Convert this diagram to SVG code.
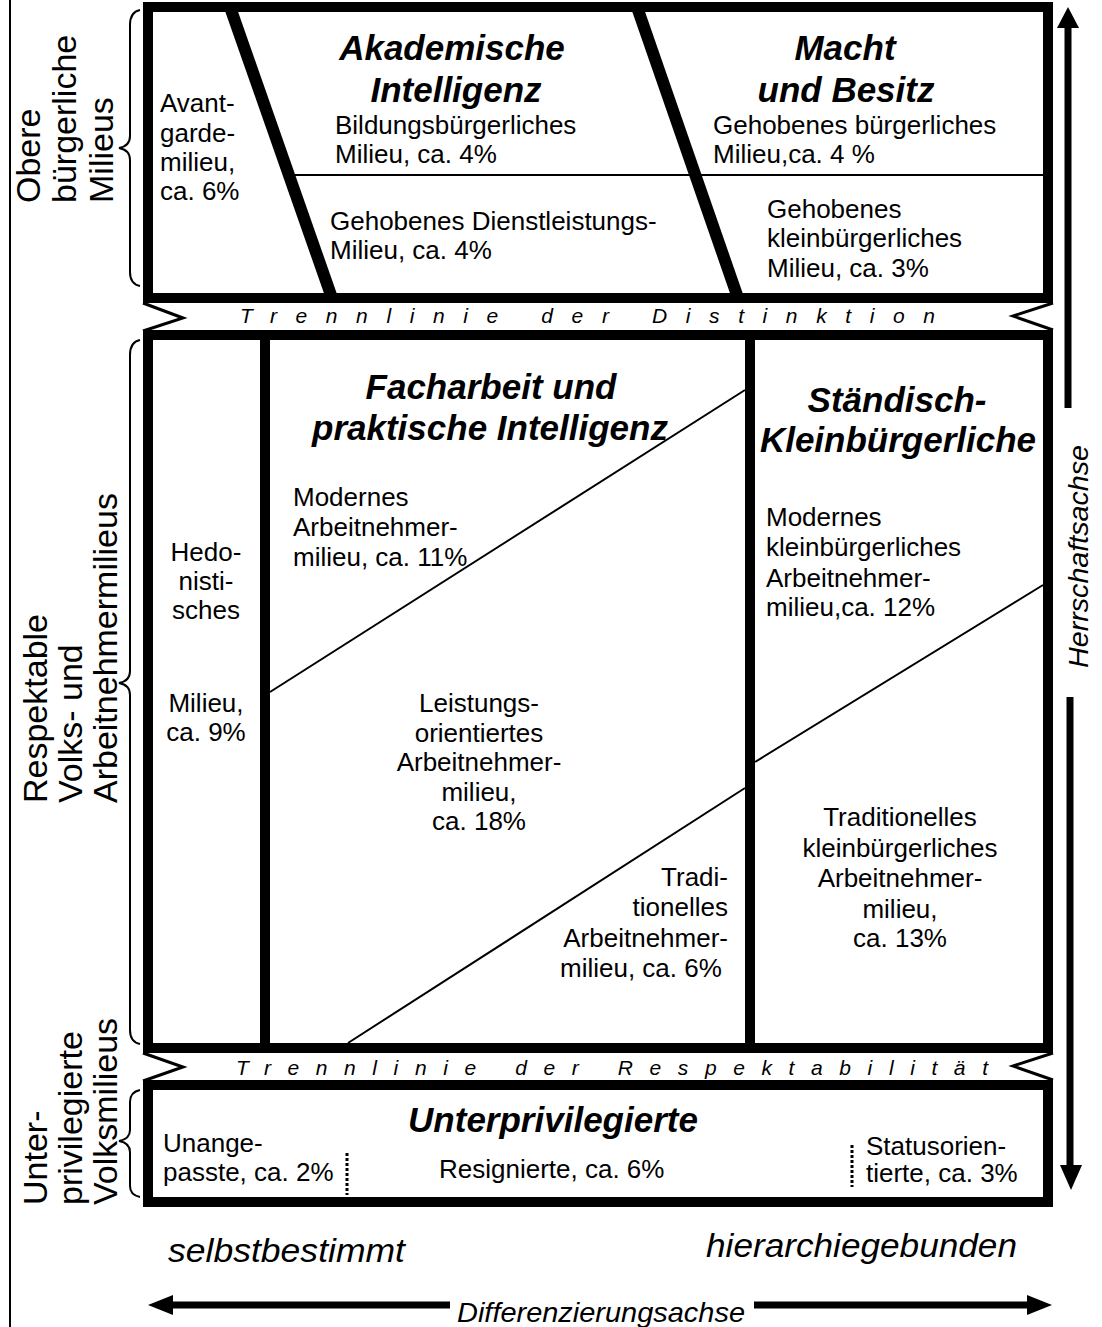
<svg xmlns="http://www.w3.org/2000/svg" width="1102" height="1327" viewBox="0 0 1102 1327">
<style>
.bx{fill:none;stroke:#000;stroke-width:10}
.thin{fill:none;stroke:#000;stroke-width:2}
.sl{fill:none;stroke:#000;stroke-width:12}
.notch{fill:none;stroke:#000;stroke-width:3}
.br{fill:none;stroke:#000;stroke-width:2}
.dot{fill:none;stroke:#000;stroke-width:3;stroke-dasharray:3 2}
.ax{fill:none;stroke:#000;stroke-width:7}
text{font-family:"Liberation Sans",Arial,sans-serif;fill:#000}
.t{font-size:26px}
.c{text-anchor:middle}
.e{text-anchor:end}
.h{font-size:35px;font-weight:bold;font-style:italic;text-anchor:middle}
.tr{font-size:21px;font-style:italic}
.lab{font-size:34px}
.it{font-style:italic}
</style>
<rect width="1102" height="1327" fill="#fff"/>
<line x1="10" y1="0" x2="10" y2="1327" class="thin"/>

<g id="frame-top">
<rect x="148" y="7" width="900" height="291" class="bx"/>
<line x1="230" y1="7" x2="332" y2="298" class="sl"/>
<line x1="637" y1="7" x2="738" y2="298" class="sl"/>
<line x1="288" y1="175" x2="1043" y2="175" class="thin"/>
</g>
<g id="frame-mid">
<rect x="148" y="335" width="900" height="713" class="bx"/>
<line x1="265" y1="335" x2="265" y2="1048" class="bx"/>
<line x1="750" y1="335" x2="750" y2="1048" class="bx"/>
<line x1="270" y1="692" x2="745" y2="390" class="thin"/>
<line x1="348" y1="1043" x2="745" y2="788" class="thin"/>
<line x1="755" y1="762" x2="1043" y2="585" class="thin"/>
</g>
<g id="frame-low">
<rect x="148" y="1085" width="900" height="117" class="bx"/>
<line x1="347" y1="1153" x2="347" y2="1195" class="dot"/>
<line x1="852" y1="1145" x2="852" y2="1187" class="dot"/>
</g>

<g id="trennlinie-distinktion">
<polyline points="143,303 183,318 143,331" class="notch"/>
<polyline points="1053,303 1013,316 1053,330" class="notch"/>
<text x="240" y="323" class="tr" textLength="695" lengthAdjust="spacing">Trennlinie der Distinktion</text>
</g>
<g id="trennlinie-respektabilitaet">
<polyline points="143,1053 183,1067 143,1081" class="notch"/>
<polyline points="1053,1053 1013,1066 1053,1080" class="notch"/>
<text x="236" y="1075" class="tr" textLength="752" lengthAdjust="spacing">Trennlinie der Respektabilität</text>
</g>

<g id="avantgarde">
<text class="t" x="160" y="112">Avant-</text>
<text class="t" x="160" y="142">garde-</text>
<text class="t" x="160" y="171">milieu,</text>
<text class="t" x="160" y="200">ca. 6%</text>
</g>
<g id="akademische-intelligenz">
<text class="h" x="452" y="60">Akademische</text>
<text class="h" x="456" y="102">Intelligenz</text>
</g>
<g id="bildungsbuergerlich">
<text class="t" x="335" y="134">Bildungsbürgerliches</text>
<text class="t" x="335" y="163">Milieu, ca. 4%</text>
</g>
<g id="dienstleistung">
<text class="t" x="330" y="230">Gehobenes Dienstleistungs-</text>
<text class="t" x="330" y="259">Milieu, ca. 4%</text>
</g>
<g id="macht-besitz">
<text class="h" x="845" y="60">Macht</text>
<text class="h" x="846" y="102">und Besitz</text>
</g>
<g id="gehoben-buergerlich">
<text class="t" x="713" y="134">Gehobenes bürgerliches</text>
<text class="t" x="713" y="163">Milieu,ca. 4 %</text>
</g>
<g id="gehoben-kleinbuergerlich">
<text class="t" x="767" y="218">Gehobenes</text>
<text class="t" x="767" y="247">kleinbürgerliches</text>
<text class="t" x="767" y="277">Milieu, ca. 3%</text>
</g>

<g id="hedonistisch">
<text class="t c" x="206" y="561">Hedo-</text>
<text class="t c" x="206" y="590">nisti-</text>
<text class="t c" x="206" y="619">sches</text>
<text class="t c" x="206" y="712">Milieu,</text>
<text class="t c" x="206" y="741">ca. 9%</text>
</g>
<g id="facharbeit">
<text class="h" x="491" y="399">Facharbeit und</text>
<text class="h" x="490" y="440">praktische Intelligenz</text>
</g>
<g id="modernes-arbeitnehmer">
<text class="t" x="293" y="506">Modernes</text>
<text class="t" x="293" y="536">Arbeitnehmer-</text>
<text class="t" x="293" y="566">milieu, ca. 11%</text>
</g>
<g id="leistungsorientiert">
<text class="t c" x="479" y="712">Leistungs-</text>
<text class="t c" x="479" y="742">orientiertes</text>
<text class="t c" x="479" y="771">Arbeitnehmer-</text>
<text class="t c" x="479" y="801">milieu,</text>
<text class="t c" x="479" y="830">ca. 18%</text>
</g>
<g id="traditionelles-arbeitnehmer">
<text class="t e" x="728" y="886">Tradi-</text>
<text class="t e" x="728" y="916">tionelles</text>
<text class="t e" x="728" y="947">Arbeitnehmer-</text>
<text class="t" x="560" y="977">milieu, ca. 6%</text>
</g>
<g id="staendisch">
<text class="h" x="897" y="412">Ständisch-</text>
<text class="h" x="898" y="452">Kleinbürgerliche</text>
</g>
<g id="modernes-kleinbuergerlich">
<text class="t" x="766" y="526">Modernes</text>
<text class="t" x="766" y="556">kleinbürgerliches</text>
<text class="t" x="766" y="587">Arbeitnehmer-</text>
<text class="t" x="766" y="616">milieu,ca. 12%</text>
</g>
<g id="traditionelles-kleinbuergerlich">
<text class="t c" x="900" y="826">Traditionelles</text>
<text class="t c" x="900" y="857">kleinbürgerliches</text>
<text class="t c" x="900" y="887">Arbeitnehmer-</text>
<text class="t c" x="900" y="918">milieu,</text>
<text class="t c" x="900" y="947">ca. 13%</text>
</g>

<g id="unterprivilegierte">
<text class="h" x="553" y="1132">Unterprivilegierte</text>
</g>
<g id="unangepasste">
<text class="t" x="163" y="1152">Unange-</text>
<text class="t" x="163" y="1181">passte, ca. 2%</text>
</g>
<g id="resignierte">
<text class="t" x="439" y="1178">Resignierte, ca. 6%</text>
</g>
<g id="statusorientierte">
<text class="t" x="866" y="1155">Statusorien-</text>
<text class="t" x="866" y="1182">tierte, ca. 3%</text>
</g>

<g id="label-obere">
<path class="br" d="M140,10 Q130,12 130,25 L130,136 Q130,146 119,148 Q130,150 130,160 L130,272 Q130,284 140,286"/>
<text class="lab" transform="translate(40,203) rotate(-90)">Obere</text>
<text class="lab" transform="translate(76,203) rotate(-90)">bürgerliche</text>
<text class="lab" transform="translate(113,203) rotate(-90)">Milieus</text>
</g>
<g id="label-respektable">
<path class="br" d="M140,340 Q130,342 130,355 L130,671 Q130,681 119,683 Q130,685 130,695 L130,1030 Q130,1042 140,1044"/>
<text class="lab" transform="translate(47,803) rotate(-90)">Respektable</text>
<text class="lab" transform="translate(82,803) rotate(-90)">Volks- und</text>
<text class="lab" transform="translate(117,803) rotate(-90)">Arbeitnehmermilieus</text>
</g>
<g id="label-unterprivilegierte">
<path class="br" d="M140,1090 Q130,1092 130,1102 L130,1130 Q130,1139 119,1141 Q130,1143 130,1152 L130,1186 Q130,1195 140,1197"/>
<text class="lab" transform="translate(47,1205) rotate(-90)">Unter-</text>
<text class="lab" transform="translate(82,1205) rotate(-90)">privilegierte</text>
<text class="lab" transform="translate(117,1205) rotate(-90)">Volksmilieus</text>
</g>

<g id="axes">
<path d="M1068,7 L1079,28 L1057,28 Z" fill="#000"/>
<line x1="1068" y1="27" x2="1068" y2="408" class="ax"/>
<line x1="1070" y1="697" x2="1070" y2="1166" class="ax"/>
<path d="M1071,1190 L1082,1165 L1060,1165 Z" fill="#000"/>
<text class="it" font-size="27" transform="translate(1088,668) rotate(-90)" textLength="223" lengthAdjust="spacingAndGlyphs">Herrschaftsachse</text>

<path d="M148,1305 L173,1295 L173,1315 Z" fill="#000"/>
<line x1="172" y1="1305" x2="450" y2="1305" class="ax"/>
<line x1="754" y1="1305" x2="1028" y2="1305" class="ax"/>
<path d="M1052,1305 L1027,1295 L1027,1315 Z" fill="#000"/>
<text class="it" font-size="28" x="457" y="1322" textLength="288" lengthAdjust="spacingAndGlyphs">Differenzierungsachse</text>
</g>
<g id="poles">
<text class="it" font-size="34" x="168" y="1262" textLength="237" lengthAdjust="spacingAndGlyphs">selbstbestimmt</text>
<text class="it" font-size="34" x="706" y="1257" textLength="311" lengthAdjust="spacingAndGlyphs">hierarchiegebunden</text>
</g>
</svg>
